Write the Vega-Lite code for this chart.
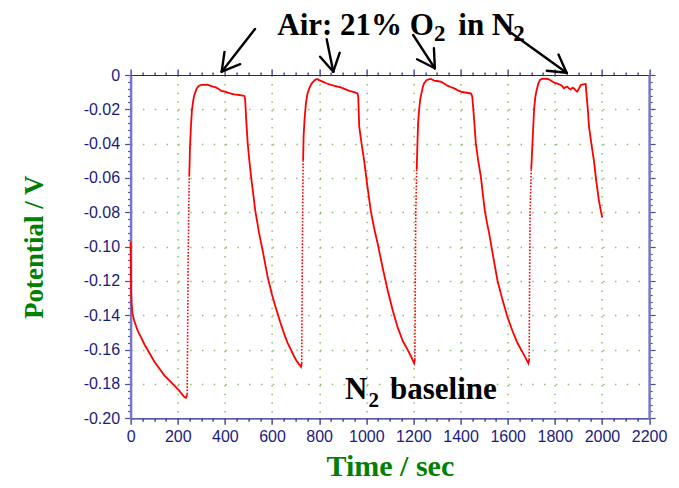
{
  "$schema": "https://vega.github.io/schema/vega-lite/v6.json",
  "width": 518.5,
  "height": 343.3,
  "autosize": {"type": "none"},
  "padding": {"left": 130.6, "top": 75, "right": 29.9, "bottom": 69.7},
  "background": "white",
  "config": {"view": {"stroke": null}},
  "datasets": {
    "curve": [
      {"seg": 1, "kind": "trace", "t": 0, "v": -0.097}, {"seg": 1, "kind": "trace", "t": 1, "v": -0.11}, {"seg": 1, "kind": "trace", "t": 2, "v": -0.126}, {"seg": 1, "kind": "trace", "t": 4, "v": -0.133}, {"seg": 1, "kind": "trace", "t": 8, "v": -0.139},
      {"seg": 1, "kind": "trace", "t": 15, "v": -0.143}, {"seg": 1, "kind": "trace", "t": 30, "v": -0.149}, {"seg": 1, "kind": "trace", "t": 45, "v": -0.153}, {"seg": 1, "kind": "trace", "t": 59, "v": -0.157}, {"seg": 1, "kind": "trace", "t": 80, "v": -0.162},
      {"seg": 1, "kind": "trace", "t": 101, "v": -0.167}, {"seg": 1, "kind": "trace", "t": 122, "v": -0.171}, {"seg": 1, "kind": "trace", "t": 143, "v": -0.175}, {"seg": 1, "kind": "trace", "t": 165, "v": -0.178}, {"seg": 1, "kind": "trace", "t": 186, "v": -0.181},
      {"seg": 1, "kind": "trace", "t": 207, "v": -0.184}, {"seg": 1, "kind": "trace", "t": 228, "v": -0.1876}, {"seg": 1, "kind": "trace", "t": 235, "v": -0.188}, {"seg": 1, "kind": "trace", "t": 240, "v": -0.186},
      {"seg": 2, "kind": "jump", "t": 240, "v": -0.186}, {"seg": 2, "kind": "jump", "t": 242, "v": -0.15}, {"seg": 2, "kind": "jump", "t": 244, "v": -0.11}, {"seg": 2, "kind": "jump", "t": 247, "v": -0.075}, {"seg": 2, "kind": "jump", "t": 249, "v": -0.059},
      {"seg": 3, "kind": "trace", "t": 249, "v": -0.059}, {"seg": 3, "kind": "trace", "t": 252, "v": -0.042}, {"seg": 3, "kind": "trace", "t": 256, "v": -0.03},
      {"seg": 3, "kind": "trace", "t": 260, "v": -0.021}, {"seg": 3, "kind": "trace", "t": 264, "v": -0.0165}, {"seg": 3, "kind": "trace", "t": 268, "v": -0.013}, {"seg": 3, "kind": "trace", "t": 273, "v": -0.0107}, {"seg": 3, "kind": "trace", "t": 280, "v": -0.008},
      {"seg": 3, "kind": "trace", "t": 289, "v": -0.0064}, {"seg": 3, "kind": "trace", "t": 300, "v": -0.0058}, {"seg": 3, "kind": "trace", "t": 313, "v": -0.0058}, {"seg": 3, "kind": "trace", "t": 325, "v": -0.0056}, {"seg": 3, "kind": "trace", "t": 334, "v": -0.006},
      {"seg": 3, "kind": "trace", "t": 350, "v": -0.0068}, {"seg": 3, "kind": "trace", "t": 362, "v": -0.0072}, {"seg": 3, "kind": "trace", "t": 370, "v": -0.0078}, {"seg": 3, "kind": "trace", "t": 384, "v": -0.0092}, {"seg": 3, "kind": "trace", "t": 398, "v": -0.0095},
      {"seg": 3, "kind": "trace", "t": 412, "v": -0.0103}, {"seg": 3, "kind": "trace", "t": 426, "v": -0.0108}, {"seg": 3, "kind": "trace", "t": 440, "v": -0.0113}, {"seg": 3, "kind": "trace", "t": 455, "v": -0.0115}, {"seg": 3, "kind": "trace", "t": 476, "v": -0.012},
      {"seg": 3, "kind": "trace", "t": 483, "v": -0.0122}, {"seg": 3, "kind": "trace", "t": 486, "v": -0.014}, {"seg": 3, "kind": "trace", "t": 490, "v": -0.025}, {"seg": 3, "kind": "trace", "t": 497, "v": -0.04}, {"seg": 3, "kind": "trace", "t": 504, "v": -0.05},
      {"seg": 3, "kind": "trace", "t": 511, "v": -0.059}, {"seg": 3, "kind": "trace", "t": 520, "v": -0.069}, {"seg": 3, "kind": "trace", "t": 529, "v": -0.079}, {"seg": 3, "kind": "trace", "t": 545, "v": -0.092}, {"seg": 3, "kind": "trace", "t": 560, "v": -0.102},
      {"seg": 3, "kind": "trace", "t": 571, "v": -0.11}, {"seg": 3, "kind": "trace", "t": 582, "v": -0.118}, {"seg": 3, "kind": "trace", "t": 600, "v": -0.128}, {"seg": 3, "kind": "trace", "t": 617, "v": -0.136}, {"seg": 3, "kind": "trace", "t": 635, "v": -0.144},
      {"seg": 3, "kind": "trace", "t": 652, "v": -0.151}, {"seg": 3, "kind": "trace", "t": 666, "v": -0.156}, {"seg": 3, "kind": "trace", "t": 680, "v": -0.16}, {"seg": 3, "kind": "trace", "t": 694, "v": -0.164}, {"seg": 3, "kind": "trace", "t": 702, "v": -0.166},
      {"seg": 3, "kind": "trace", "t": 712, "v": -0.168}, {"seg": 3, "kind": "trace", "t": 723, "v": -0.17}, {"seg": 3, "kind": "trace", "t": 726, "v": -0.168},
      {"seg": 4, "kind": "jump", "t": 726, "v": -0.168}, {"seg": 4, "kind": "jump", "t": 728, "v": -0.12}, {"seg": 4, "kind": "jump", "t": 730, "v": -0.08}, {"seg": 4, "kind": "jump", "t": 732, "v": -0.05},
      {"seg": 5, "kind": "trace", "t": 732, "v": -0.05}, {"seg": 5, "kind": "trace", "t": 734, "v": -0.036}, {"seg": 5, "kind": "trace", "t": 738, "v": -0.026}, {"seg": 5, "kind": "trace", "t": 744, "v": -0.0165}, {"seg": 5, "kind": "trace", "t": 750, "v": -0.011},
      {"seg": 5, "kind": "trace", "t": 758, "v": -0.0078}, {"seg": 5, "kind": "trace", "t": 768, "v": -0.005}, {"seg": 5, "kind": "trace", "t": 779, "v": -0.0033}, {"seg": 5, "kind": "trace", "t": 786, "v": -0.0026}, {"seg": 5, "kind": "trace", "t": 793, "v": -0.0025},
      {"seg": 5, "kind": "trace", "t": 800, "v": -0.003}, {"seg": 5, "kind": "trace", "t": 815, "v": -0.0039}, {"seg": 5, "kind": "trace", "t": 830, "v": -0.0048}, {"seg": 5, "kind": "trace", "t": 850, "v": -0.0058}, {"seg": 5, "kind": "trace", "t": 870, "v": -0.0065},
      {"seg": 5, "kind": "trace", "t": 892, "v": -0.0072}, {"seg": 5, "kind": "trace", "t": 910, "v": -0.0082}, {"seg": 5, "kind": "trace", "t": 928, "v": -0.0092}, {"seg": 5, "kind": "trace", "t": 945, "v": -0.0098}, {"seg": 5, "kind": "trace", "t": 963, "v": -0.0107},
      {"seg": 5, "kind": "trace", "t": 966, "v": -0.013}, {"seg": 5, "kind": "trace", "t": 970, "v": -0.03}, {"seg": 5, "kind": "trace", "t": 980, "v": -0.04}, {"seg": 5, "kind": "trace", "t": 991, "v": -0.05}, {"seg": 5, "kind": "trace", "t": 1005, "v": -0.065},
      {"seg": 5, "kind": "trace", "t": 1019, "v": -0.079}, {"seg": 5, "kind": "trace", "t": 1033, "v": -0.089}, {"seg": 5, "kind": "trace", "t": 1048, "v": -0.098}, {"seg": 5, "kind": "trace", "t": 1069, "v": -0.112}, {"seg": 5, "kind": "trace", "t": 1090, "v": -0.125},
      {"seg": 5, "kind": "trace", "t": 1112, "v": -0.137}, {"seg": 5, "kind": "trace", "t": 1133, "v": -0.147}, {"seg": 5, "kind": "trace", "t": 1155, "v": -0.155}, {"seg": 5, "kind": "trace", "t": 1175, "v": -0.16}, {"seg": 5, "kind": "trace", "t": 1190, "v": -0.164},
      {"seg": 5, "kind": "trace", "t": 1203, "v": -0.168}, {"seg": 5, "kind": "trace", "t": 1206, "v": -0.166},
      {"seg": 6, "kind": "jump", "t": 1206, "v": -0.166}, {"seg": 6, "kind": "jump", "t": 1208, "v": -0.12}, {"seg": 6, "kind": "jump", "t": 1210, "v": -0.08}, {"seg": 6, "kind": "jump", "t": 1214, "v": -0.055},
      {"seg": 7, "kind": "trace", "t": 1214, "v": -0.055}, {"seg": 7, "kind": "trace", "t": 1217, "v": -0.04}, {"seg": 7, "kind": "trace", "t": 1220, "v": -0.028}, {"seg": 7, "kind": "trace", "t": 1224, "v": -0.0204}, {"seg": 7, "kind": "trace", "t": 1229, "v": -0.014}, {"seg": 7, "kind": "trace", "t": 1234, "v": -0.0107},
      {"seg": 7, "kind": "trace", "t": 1240, "v": -0.007}, {"seg": 7, "kind": "trace", "t": 1245, "v": -0.0049}, {"seg": 7, "kind": "trace", "t": 1255, "v": -0.003}, {"seg": 7, "kind": "trace", "t": 1265, "v": -0.0025}, {"seg": 7, "kind": "trace", "t": 1274, "v": -0.0023},
      {"seg": 7, "kind": "trace", "t": 1281, "v": -0.0028}, {"seg": 7, "kind": "trace", "t": 1288, "v": -0.0033}, {"seg": 7, "kind": "trace", "t": 1300, "v": -0.0035}, {"seg": 7, "kind": "trace", "t": 1316, "v": -0.0039}, {"seg": 7, "kind": "trace", "t": 1330, "v": -0.005},
      {"seg": 7, "kind": "trace", "t": 1344, "v": -0.0062}, {"seg": 7, "kind": "trace", "t": 1358, "v": -0.007}, {"seg": 7, "kind": "trace", "t": 1373, "v": -0.0078}, {"seg": 7, "kind": "trace", "t": 1387, "v": -0.0088}, {"seg": 7, "kind": "trace", "t": 1401, "v": -0.0097},
      {"seg": 7, "kind": "trace", "t": 1420, "v": -0.0102}, {"seg": 7, "kind": "trace", "t": 1443, "v": -0.0107}, {"seg": 7, "kind": "trace", "t": 1447, "v": -0.0115}, {"seg": 7, "kind": "trace", "t": 1450, "v": -0.013}, {"seg": 7, "kind": "trace", "t": 1457, "v": -0.025},
      {"seg": 7, "kind": "trace", "t": 1465, "v": -0.04}, {"seg": 7, "kind": "trace", "t": 1475, "v": -0.05}, {"seg": 7, "kind": "trace", "t": 1486, "v": -0.059}, {"seg": 7, "kind": "trace", "t": 1495, "v": -0.07}, {"seg": 7, "kind": "trace", "t": 1503, "v": -0.079},
      {"seg": 7, "kind": "trace", "t": 1512, "v": -0.086}, {"seg": 7, "kind": "trace", "t": 1521, "v": -0.092}, {"seg": 7, "kind": "trace", "t": 1540, "v": -0.107}, {"seg": 7, "kind": "trace", "t": 1557, "v": -0.12}, {"seg": 7, "kind": "trace", "t": 1578, "v": -0.131},
      {"seg": 7, "kind": "trace", "t": 1599, "v": -0.141}, {"seg": 7, "kind": "trace", "t": 1620, "v": -0.149}, {"seg": 7, "kind": "trace", "t": 1641, "v": -0.156}, {"seg": 7, "kind": "trace", "t": 1665, "v": -0.162}, {"seg": 7, "kind": "trace", "t": 1688, "v": -0.168},
      {"seg": 7, "kind": "trace", "t": 1691, "v": -0.166},
      {"seg": 8, "kind": "jump", "t": 1691, "v": -0.166}, {"seg": 8, "kind": "jump", "t": 1693, "v": -0.12}, {"seg": 8, "kind": "jump", "t": 1695, "v": -0.08}, {"seg": 8, "kind": "jump", "t": 1700, "v": -0.055},
      {"seg": 9, "kind": "trace", "t": 1700, "v": -0.055}, {"seg": 9, "kind": "trace", "t": 1705, "v": -0.04},
      {"seg": 9, "kind": "trace", "t": 1712, "v": -0.02}, {"seg": 9, "kind": "trace", "t": 1717, "v": -0.013}, {"seg": 9, "kind": "trace", "t": 1723, "v": -0.0087}, {"seg": 9, "kind": "trace", "t": 1730, "v": -0.005}, {"seg": 9, "kind": "trace", "t": 1737, "v": -0.0029},
      {"seg": 9, "kind": "trace", "t": 1745, "v": -0.0023}, {"seg": 9, "kind": "trace", "t": 1754, "v": -0.0023}, {"seg": 9, "kind": "trace", "t": 1765, "v": -0.0022}, {"seg": 9, "kind": "trace", "t": 1775, "v": -0.0025}, {"seg": 9, "kind": "trace", "t": 1786, "v": -0.0035},
      {"seg": 9, "kind": "trace", "t": 1797, "v": -0.0045}, {"seg": 9, "kind": "trace", "t": 1811, "v": -0.005}, {"seg": 9, "kind": "trace", "t": 1825, "v": -0.0058}, {"seg": 9, "kind": "trace", "t": 1832, "v": -0.0065}, {"seg": 9, "kind": "trace", "t": 1839, "v": -0.0078},
      {"seg": 9, "kind": "trace", "t": 1846, "v": -0.007}, {"seg": 9, "kind": "trace", "t": 1853, "v": -0.0068}, {"seg": 9, "kind": "trace", "t": 1860, "v": -0.0078}, {"seg": 9, "kind": "trace", "t": 1867, "v": -0.0084}, {"seg": 9, "kind": "trace", "t": 1874, "v": -0.0075},
      {"seg": 9, "kind": "trace", "t": 1881, "v": -0.0078}, {"seg": 9, "kind": "trace", "t": 1888, "v": -0.009}, {"seg": 9, "kind": "trace", "t": 1895, "v": -0.0097}, {"seg": 9, "kind": "trace", "t": 1902, "v": -0.008}, {"seg": 9, "kind": "trace", "t": 1910, "v": -0.0058},
      {"seg": 9, "kind": "trace", "t": 1920, "v": -0.0054}, {"seg": 9, "kind": "trace", "t": 1931, "v": -0.0052}, {"seg": 9, "kind": "trace", "t": 1934, "v": -0.0107}, {"seg": 9, "kind": "trace", "t": 1940, "v": -0.02}, {"seg": 9, "kind": "trace", "t": 1945, "v": -0.03},
      {"seg": 9, "kind": "trace", "t": 1955, "v": -0.04}, {"seg": 9, "kind": "trace", "t": 1966, "v": -0.05}, {"seg": 9, "kind": "trace", "t": 1976, "v": -0.062}, {"seg": 9, "kind": "trace", "t": 1987, "v": -0.073}, {"seg": 9, "kind": "trace", "t": 1995, "v": -0.079},
      {"seg": 9, "kind": "trace", "t": 2001, "v": -0.083}
    ],
    "arrows": [
      {"t": 527.8, "v": 0.0268, "t2": 386.5, "v2": 0.00192},
      {"t": 465, "v": 0.0063, "t2": 386.5, "v2": 0.00192},
      {"t": 398.4, "v": 0.01346, "t2": 386.5, "v2": 0.00192},
      {"t": 832, "v": 0.0208, "t2": 860, "v2": 0.00192},
      {"t": 887, "v": 0.01293, "t2": 860, "v2": 0.00192},
      {"t": 804, "v": 0.01066, "t2": 860, "v2": 0.00192},
      {"t": 1199, "v": 0.0233, "t2": 1291, "v2": 0.0039},
      {"t": 1287, "v": 0.01555, "t2": 1291, "v2": 0.0039},
      {"t": 1215.5, "v": 0.0092, "t2": 1291, "v2": 0.0039},
      {"t": 1617, "v": 0.0243, "t2": 1850, "v2": 0.00134},
      {"t": 1815.5, "v": 0.01194, "t2": 1850, "v2": 0.00134},
      {"t": 1766, "v": 0.0025, "t2": 1850, "v2": 0.00134}
    ],
    "mainText": [
      {"t": 622.4, "v": 0.02348, "label": "Air: 21% O"},
      {"t": 1390.3, "v": 0.02348, "label": "in N"},
      {"t": 909.6, "v": -0.18891, "label": "N"},
      {"t": 1100.5, "v": -0.18891, "label": "baseline"}
    ],
    "titleSub": [
      {"t": 1287.2, "v": 0.01963, "label": "2"},
      {"t": 1624, "v": 0.01963, "label": "2"}
    ],
    "baseSub": [
      {"t": 1009.3, "v": -0.19322, "label": "2"}
    ]
  },
  "resolve": {"axis": {"x": "independent", "y": "independent"}},
  "layer": [
    {
      "data": {"name": "curve"},
      "transform": [{"filter": "datum.kind === 'trace'"}],
      "mark": {"type": "line", "color": "#ff0000", "strokeWidth": 1.8, "clip": false},
      "encoding": {
        "detail": {"field": "seg", "type": "nominal"},
        "x": {
          "field": "t", "type": "quantitative",
          "scale": {"domain": [0, 2200], "nice": false, "zero": false},
          "axis": {
            "orient": "bottom",
            "values": [0,50,100,150,200,250,300,350,400,450,500,550,600,650,700,750,800,850,900,950,1000,1050,1100,1150,1200,1250,1300,1350,1400,1450,1500,1550,1600,1650,1700,1750,1800,1850,1900,1950,2000,2050,2100,2150,2200],
            "labelExpr": "datum.value % 200 === 0 ? format(datum.value, 'd') : ''",
            "labelOverlap": false, "labelFlush": false,
            "labelFont": "Liberation Sans", "labelFontSize": 16, "labelColor": "#1a1a80", "labelPadding": 4,
            "tickSize": {"condition": {"test": "datum.value % 200 === 0", "value": 6}, "value": 3},
            "tickColor": "#22228a", "tickWidth": 1.2,
            "domainColor": "#22228a", "domainWidth": 1.2,
            "grid": true, "gridColor": "#90bc6c", "gridWidth": 1.5, "gridDash": [1.5, 7.1],
            "gridOpacity": {"condition": {"test": "datum.value % 200 === 0 && datum.value > 0 && datum.value < 2200", "value": 1}, "value": 0},
            "title": "Time / sec", "titleFont": "Liberation Serif", "titleFontSize": 30, "titleFontWeight": "bold", "titleColor": "#008000", "titlePadding": 7
          }
        },
        "y": {
          "field": "v", "type": "quantitative",
          "scale": {"domain": [-0.2, 0], "nice": false, "zero": false},
          "axis": {
            "orient": "left",
            "values": [0,-0.004,-0.008,-0.012,-0.016,-0.02,-0.024,-0.028,-0.032,-0.036,-0.04,-0.044,-0.048,-0.052,-0.056,-0.06,-0.064,-0.068,-0.072,-0.076,-0.08,-0.084,-0.088,-0.092,-0.096,-0.1,-0.104,-0.108,-0.112,-0.116,-0.12,-0.124,-0.128,-0.132,-0.136,-0.14,-0.144,-0.148,-0.152,-0.156,-0.16,-0.164,-0.168,-0.172,-0.176,-0.18,-0.184,-0.188,-0.192,-0.196,-0.2],
            "labelExpr": "abs(datum.value*50 - round(datum.value*50)) < 0.001 ? (datum.value === 0 ? '0' : '-' + format(abs(datum.value), '.2f')) : ''",
            "labelOverlap": false, "labelFlush": false,
            "labelFont": "Liberation Sans", "labelFontSize": 16, "labelColor": "#1a1a80", "labelPadding": 5,
            "tickSize": {"condition": {"test": "abs(datum.value*50 - round(datum.value*50)) < 0.001", "value": 6}, "value": 3},
            "tickColor": "#4a4aa6", "tickWidth": 1.2,
            "domainColor": "#7878c4", "domainWidth": 2.5,
            "grid": true, "gridColor": "#90bc6c", "gridWidth": 1.5, "gridDash": [1.5, 10.3],
            "gridOpacity": {"condition": {"test": "abs(datum.value*50 - round(datum.value*50)) < 0.001 && datum.value < -0.001 && datum.value > -0.199", "value": 1}, "value": 0},
            "title": "Potential / V", "titleFont": "Liberation Serif", "titleFontSize": 27, "titleFontWeight": "bold", "titleColor": "#008000", "titlePadding": 35
          }
        }
      }
    },
    {
      "data": {"name": "curve"},
      "transform": [{"filter": "datum.kind === 'jump'"}],
      "mark": {"type": "line", "color": "#ff0000", "strokeWidth": 1.6, "strokeDash": [1.6, 1.6], "clip": false},
      "encoding": {
        "detail": {"field": "seg", "type": "nominal"},
        "x": {
          "field": "t", "type": "quantitative",
          "axis": {
            "orient": "top",
            "values": [0,50,100,150,200,250,300,350,400,450,500,550,600,650,700,750,800,850,900,950,1000,1050,1100,1150,1200,1250,1300,1350,1400,1450,1500,1550,1600,1650,1700,1750,1800,1850,1900,1950,2000,2050,2100,2150,2200],
            "labels": false, "grid": false, "title": null,
            "tickSize": {"condition": {"test": "datum.value % 200 === 0", "value": 6}, "value": 3},
            "tickColor": "#22228a", "tickWidth": 1.2,
            "domainColor": "#22228a", "domainWidth": 1.2
          }
        },
        "y": {
          "field": "v", "type": "quantitative",
          "axis": {
            "orient": "right",
            "values": [0,-0.004,-0.008,-0.012,-0.016,-0.02,-0.024,-0.028,-0.032,-0.036,-0.04,-0.044,-0.048,-0.052,-0.056,-0.06,-0.064,-0.068,-0.072,-0.076,-0.08,-0.084,-0.088,-0.092,-0.096,-0.1,-0.104,-0.108,-0.112,-0.116,-0.12,-0.124,-0.128,-0.132,-0.136,-0.14,-0.144,-0.148,-0.152,-0.156,-0.16,-0.164,-0.168,-0.172,-0.176,-0.18,-0.184,-0.188,-0.192,-0.196,-0.2],
            "labels": false, "grid": false, "title": null,
            "tickSize": {"condition": {"test": "abs(datum.value*50 - round(datum.value*50)) < 0.001", "value": 6}, "value": 3},
            "tickColor": "#4a4aa6", "tickWidth": 1.2,
            "domainColor": "#7878c4", "domainWidth": 2.5
          }
        }
      }
    },
    {
      "data": {"name": "arrows"},
      "mark": {"type": "rule", "color": "#000000", "strokeWidth": 2.4, "strokeCap": "round", "clip": false},
      "encoding": {
        "x": {"field": "t", "type": "quantitative", "axis": null},
        "y": {"field": "v", "type": "quantitative", "axis": null},
        "x2": {"field": "t2"},
        "y2": {"field": "v2"}
      }
    },
    {
      "data": {"name": "mainText"},
      "mark": {"type": "text", "align": "left", "baseline": "alphabetic", "font": "Liberation Serif", "fontWeight": "bold", "fontSize": 31, "color": "#000000", "clip": false},
      "encoding": {
        "x": {"field": "t", "type": "quantitative", "axis": null},
        "y": {"field": "v", "type": "quantitative", "axis": null},
        "text": {"field": "label"}
      }
    },
    {
      "data": {"name": "titleSub"},
      "mark": {"type": "text", "align": "left", "baseline": "alphabetic", "font": "Liberation Serif", "fontWeight": "bold", "fontSize": 23, "color": "#000000", "clip": false},
      "encoding": {
        "x": {"field": "t", "type": "quantitative", "axis": null},
        "y": {"field": "v", "type": "quantitative", "axis": null},
        "text": {"field": "label"}
      }
    },
    {
      "data": {"name": "baseSub"},
      "mark": {"type": "text", "align": "left", "baseline": "alphabetic", "font": "Liberation Serif", "fontWeight": "bold", "fontSize": 21, "color": "#000000", "clip": false},
      "encoding": {
        "x": {"field": "t", "type": "quantitative", "axis": null},
        "y": {"field": "v", "type": "quantitative", "axis": null},
        "text": {"field": "label"}
      }
    }
  ]
}
